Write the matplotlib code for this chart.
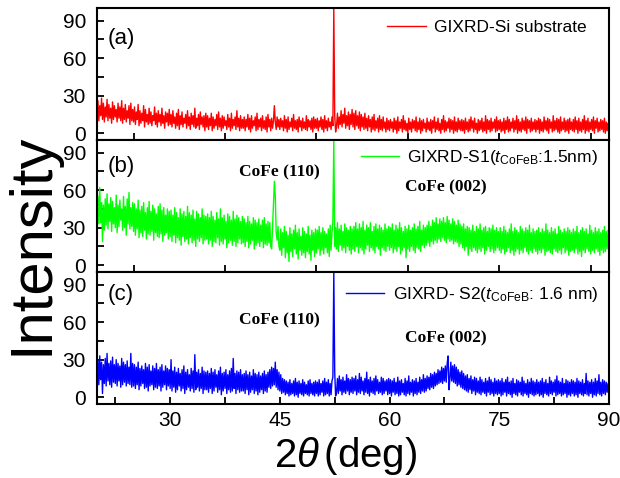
import numpy as np
import matplotlib
matplotlib.use("Agg")
import matplotlib.pyplot as plt
from matplotlib.ticker import FixedLocator, NullFormatter

plt.rcParams['font.family'] = ['Liberation Sans', 'DejaVu Sans']
plt.rcParams['mathtext.fontset'] = 'custom'
plt.rcParams['mathtext.rm'] = 'Liberation Sans'
plt.rcParams['mathtext.it'] = 'Liberation Sans:italic'
plt.rcParams['mathtext.bf'] = 'Liberation Sans:bold'

# intensities sampled every 0.125 deg of 2theta, from 20 to 90
si_substrate = [
    12, 26, 10, 22, 14, 28, 11, 24, 9, 21, 13, 27, 10, 23, 12, 20, 8, 25, 11, 22, 13, 19, 9, 24, 12, 21, 10, 26, 8, 20, 11, 23, 9, 18, 12, 22, 7, 24, 10, 19,
    9, 21, 7, 17, 11, 23, 6, 18, 8, 16, 10, 22, 5, 19, 9, 15, 7, 20, 8, 17, 6, 14, 10, 21, 7, 16, 5, 18, 9, 15, 6, 20, 8, 14, 4, 17, 9, 16, 6, 19,
    7, 15, 5, 18, 8, 13, 4, 16, 6, 19, 3, 14, 7, 17, 5, 12, 8, 15, 4, 18, 6, 13, 3, 16, 7, 14, 5, 20, 4, 12, 6, 15, 3, 17, 7, 13, 5, 14, 2, 16,
    5, 14, 3, 12, 6, 16, 2, 13, 4, 11, 6, 15, 3, 17, 5, 12, 2, 14, 4, 13, 6, 10, 3, 15, 5, 12, 2, 16, 4, 11, 6, 13, 3, 18, 5, 12, 2, 14, 4, 11,
    4, 13, 2, 11, 5, 15, 3, 12, 1, 14, 4, 10, 6, 13, 2, 16, 3, 11, 5, 12, 2, 14, 4, 10, 3, 13, 1, 15, 5, 11, 2, 12, 4, 10, 22, 9, 3, 13, 5, 11,
    3, 12, 5, 10, 2, 14, 4, 11, 1, 13, 3, 9, 5, 12, 2, 15, 4, 10, 3, 11, 1, 13, 5, 10, 2, 12, 4, 9, 3, 14, 2, 11, 5, 10, 3, 12, 1, 13, 4, 11,
    4, 12, 2, 10, 5, 13, 3, 11, 1, 14, 4, 10, 2, 12, 5, 9, 3, 13, 6, 100, 14, 1, 6, 16, 4, 13, 7, 18, 5, 15, 8, 20, 4, 14, 6, 17, 3, 15, 7, 19,
    5, 16, 3, 18, 6, 14, 4, 17, 2, 15, 5, 13, 3, 16, 4, 12, 2, 14, 5, 11, 1, 13, 3, 15, 2, 10, 4, 12, 1, 14, 3, 11, 2, 13, 4, 9, 1, 12, 3, 10,
    2, 11, 4, 9, 1, 12, 3, 10, 0, 13, 2, 9, 4, 11, 1, 14, 3, 10, 2, 8, 0, 12, 3, 9, 1, 11, 4, 10, 2, 13, 1, 9, 3, 12, 0, 10, 2, 11, 4, 8,
    1, 12, 3, 9, 2, 11, 0, 10, 4, 13, 1, 9, 3, 12, 2, 8, 0, 11, 3, 14, 1, 10, 2, 9, 4, 12, 1, 11, 3, 10, 0, 13, 2, 9, 1, 12, 3, 10, 2, 11,
    2, 10, 0, 12, 3, 9, 1, 11, 2, 13, 4, 10, 1, 12, 3, 8, 0, 11, 2, 10, 3, 12, 1, 9, 2, 14, 0, 11, 3, 10, 1, 12, 2, 9, 4, 11, 1, 13, 2, 10,
    3, 11, 1, 9, 2, 12, 0, 10, 3, 13, 1, 11, 2, 9, 4, 12, 1, 10, 3, 14, 0, 11, 2, 9, 1, 12, 3, 10, 2, 13, 0, 11, 4, 10, 1, 12, 2, 9, 3, 11,
    1, 10, 3, 12, 0, 11, 2, 9, 1, 13, 3, 10, 2, 12, 0, 11, 4, 9, 1, 14, 2, 10, 3, 12, 1, 11, 0, 13, 2, 9, 3, 12, 1, 10, 2, 11, 0, 12, 3, 9,
    2, 11, 1, 13, 3, 10, 0, 12, 2, 9, 1, 11, 3, 14, 0, 10, 2, 12, 1, 9, 3, 11, 2, 13, 0, 10, 4, 12, 1, 9, 2, 11, 3, 10, 1, 12, 0, 9, 2, 8,
    5,
]

sample_s1 = [
    30, 55, 33, 62, 34, 50, 19, 48, 28, 53, 32, 57, 29, 49, 35, 54, 27, 51, 33, 46, 30, 56, 26, 48, 31, 52, 36, 45, 28, 55, 30, 47, 24, 53, 33, 58, 29, 46, 31, 50,
    27, 49, 24, 45, 29, 52, 22, 44, 26, 47, 23, 50, 28, 42, 21, 46, 25, 51, 24, 43, 27, 48, 20, 45, 26, 41, 23, 47, 22, 49, 25, 44, 19, 46, 24, 40, 26, 45, 21, 43,
    23, 44, 19, 40, 24, 46, 18, 42, 22, 38, 20, 45, 16, 41, 23, 43, 19, 39, 21, 47, 17, 42, 22, 40, 18, 44, 20, 37, 15, 43, 21, 41, 19, 38, 22, 45, 17, 40, 20, 39,
    21, 41, 17, 38, 20, 43, 15, 39, 19, 36, 18, 42, 22, 37, 16, 45, 19, 38, 17, 40, 21, 35, 14, 41, 18, 39, 20, 36, 16, 43, 19, 37, 15, 40, 18, 38, 21, 35, 17, 39,
    18, 37, 15, 34, 19, 39, 14, 35, 17, 33, 20, 38, 13, 36, 16, 34, 18, 37, 15, 32, 19, 36, 14, 38, 17, 33, 16, 35, 18, 34, 15, 13, 30, 48, 67, 55, 26, 20, 31, 15,
    12, 29, 8, 26, 14, 31, 6, 27, 10, 24, 3, 30, 11, 25, 7, 28, 13, 32, 9, 26, 5, 29, 12, 23, 8, 30, 10, 27, 6, 25, 11, 31, 9, 24, 4, 28, 12, 26, 7, 29,
    10, 28, 13, 31, 8, 26, 12, 30, 9, 27, 14, 25, 10, 29, 7, 32, 12, 26, 35, 100, 15, 30, 13, 34, 11, 29, 16, 32, 12, 27, 14, 33, 10, 30, 15, 28, 12, 31, 9, 29,
    13, 31, 11, 34, 15, 29, 10, 33, 14, 30, 12, 35, 9, 28, 13, 32, 16, 30, 11, 34, 14, 27, 12, 31, 10, 33, 15, 29, 13, 32, 8, 30, 14, 28, 12, 33, 11, 29, 15, 31,
    12, 30, 14, 33, 10, 28, 13, 32, 11, 29, 15, 34, 9, 30, 12, 27, 14, 31, 6, 29, 13, 32, 11, 28, 15, 30, 12, 33, 10, 29, 14, 31, 13, 35, 11, 28, 16, 32, 14, 30,
    16, 32, 18, 35, 15, 31, 19, 36, 17, 34, 20, 38, 18, 33, 21, 37, 19, 35, 22, 38, 20, 34, 18, 39, 21, 36, 19, 33, 20, 37, 17, 35, 19, 32, 18, 36, 15, 33, 17, 31,
    14, 33, 12, 29, 15, 31, 8, 30, 13, 28, 11, 32, 14, 27, 12, 31, 10, 29, 13, 33, 11, 28, 14, 30, 9, 31, 12, 27, 15, 30, 11, 29, 13, 32, 10, 28, 12, 30, 14, 27,
    12, 30, 10, 27, 13, 31, 9, 28, 11, 26, 14, 29, 10, 33, 12, 27, 8, 30, 11, 28, 13, 26, 9, 31, 12, 29, 10, 27, 14, 30, 11, 28, 9, 32, 12, 26, 10, 29, 13, 27,
    11, 28, 9, 30, 12, 26, 10, 29, 13, 27, 8, 33, 11, 28, 12, 26, 10, 30, 9, 27, 13, 29, 11, 25, 10, 31, 12, 28, 9, 26, 14, 29, 10, 27, 12, 30, 8, 28, 11, 26,
    12, 29, 10, 27, 13, 31, 9, 26, 11, 28, 7, 30, 12, 27, 10, 29, 13, 25, 11, 32, 9, 28, 12, 26, 10, 30, 13, 27, 11, 29, 8, 26, 12, 28, 10, 31, 11, 27, 13, 28,
    20,
]

sample_s2 = [
    12, 30, 10, 33, 14, 28, 3, 26, 11, 31, 9, 35, 13, 27, 10, 29, 8, 32, 12, 26, 11, 30, 9, 27, 13, 25, 8, 31, 10, 28, 12, 26, 9, 29, 11, 24, 10, 35, 8, 27,
    9, 26, 7, 24, 10, 28, 6, 23, 9, 25, 11, 22, 7, 27, 8, 24, 5, 26, 9, 21, 10, 25, 6, 23, 8, 27, 7, 22, 9, 24, 5, 26, 8, 21, 10, 25, 6, 23, 9, 22,
    7, 30, 5, 21, 8, 24, 4, 20, 6, 23, 9, 19, 5, 22, 7, 25, 3, 20, 6, 22, 8, 18, 5, 23, 7, 21, 4, 34, 6, 20, 8, 22, 5, 19, 7, 24, 3, 21, 6, 20,
    6, 21, 4, 19, 7, 23, 3, 20, 5, 22, 8, 18, 4, 21, 6, 24, 2, 19, 5, 20, 7, 22, 3, 18, 6, 21, 4, 23, 5, 31, 7, 19, 3, 21, 6, 20, 4, 22, 5, 18,
    5, 19, 3, 21, 6, 18, 2, 20, 4, 17, 6, 22, 3, 19, 5, 18, 2, 20, 4, 17, 6, 19, 3, 21, 5, 18, 4, 20, 8, 22, 7, 24, 9, 23, 10, 28, 8, 22, 6, 20,
    5, 18, 3, 15, 4, 14, 2, 13, 3, 12, 1, 14, 2, 11, 3, 13, 1, 15, 2, 12, 0, 13, 3, 11, 2, 14, 1, 12, 3, 10, 2, 13, 1, 14, 3, 11, 2, 12, 1, 13,
    3, 12, 1, 14, 2, 11, 4, 13, 1, 15, 2, 12, 3, 14, 1, 11, 2, 13, 16, 100, 20, 1, 4, 15, 3, 17, 5, 14, 2, 16, 4, 13, 3, 18, 5, 15, 2, 14, 4, 16,
    3, 15, 5, 17, 2, 14, 4, 19, 3, 16, 5, 13, 2, 15, 4, 20, 3, 14, 1, 16, 4, 13, 3, 15, 2, 17, 5, 14, 3, 12, 4, 16, 2, 15, 3, 13, 5, 14, 2, 15,
    3, 14, 1, 13, 4, 15, 2, 12, 3, 16, 1, 13, 2, 14, 4, 11, 2, 15, 1, 13, 3, 17, 2, 12, 4, 14, 1, 13, 3, 15, 2, 12, 4, 16, 3, 14, 5, 18, 4, 15,
    5, 17, 7, 16, 6, 19, 8, 18, 7, 20, 9, 19, 10, 22, 11, 21, 12, 24, 11, 23, 13, 25, 12, 27, 33, 6, 15, 28, 13, 25, 12, 26, 11, 24, 9, 22, 10, 20, 8, 21,
    7, 19, 6, 17, 5, 18, 4, 15, 6, 17, 3, 14, 5, 16, 2, 15, 4, 13, 3, 16, 2, 14, 4, 12, 3, 15, 1, 13, 4, 16, 2, 14, 3, 12, 1, 15, 3, 13, 2, 14,
    3, 13, 1, 15, 2, 12, 4, 14, 1, 16, 3, 12, 2, 13, 0, 15, 3, 11, 2, 14, 1, 13, 4, 12, 2, 16, 1, 13, 3, 11, 2, 14, 0, 12, 3, 15, 2, 13, 1, 12,
    2, 14, 3, 12, 1, 13, 2, 15, 0, 12, 3, 14, 2, 11, 1, 16, 3, 13, 2, 12, 4, 14, 1, 17, 2, 13, 3, 12, 1, 15, 2, 11, 3, 14, 0, 13, 2, 12, 1, 14,
    3, 13, 1, 12, 2, 15, 0, 13, 3, 12, 2, 14, 1, 11, 3, 19, 2, 13, 1, 12, 3, 14, 0, 12, 2, 15, 1, 13, 3, 18, 2, 12, 1, 14, 3, 13, 2, 12, 4, 11,
    6,
]

series = [si_substrate, sample_s1, sample_s2]
series_labels = [
    'GIXRD-Si substrate',
    r'GIXRD-S1($t_{\mathrm{CoFeB}}$:1.5nm)',
    r'GIXRD- S2($t_{\mathrm{CoFeB}}$: 1.6 nm)',
]
colors = ['#FF0000', '#00FF00', '#0000FF']
panel_tags = ['(a)', '(b)', '(c)']
y_ticks = [0, 30, 60, 90]
x_ticks_bottom = [30, 45, 60, 75, 90]

# peak annotations: (panel index, text, x, y)
peak_labels = [
    (1, 'CoFe (110)', 45.0, 74.5),
    (1, 'CoFe (002)', 67.7, 62.5),
    (2, 'CoFe (110)', 45.0, 61.7),
    (2, 'CoFe (002)', 67.7, 47.3),
]

fig = plt.figure(figsize=(6.2, 4.78), dpi=100)
left, width, h = 97 / 620, 512 / 620, 132 / 478
bottoms = [338 / 478, 206 / 478, 74 / 478]
legend_anchor = [(0.957, 0.856), (0.979, 0.864), (0.979, 0.826)]
tag_y = [0.77, 0.80, 0.83]

axes = []
for i in range(3):
    ax = fig.add_axes([left, bottoms[i], width, h])
    vals = series[i]
    two_theta = np.linspace(20, 90, len(vals))
    ax.plot(two_theta, vals, color=colors[i], lw=1.0, label=series_labels[i])
    ax.set_xlim(20, 90)
    ax.set_ylim(-5.4, 100)
    ax.set_yticks(y_ticks)
    ax.yaxis.set_minor_locator(FixedLocator([15, 45, 75]))
    ax.tick_params(axis='both', which='both', direction='in', length=5, width=1.3,
                   top=False, right=False)
    ax.tick_params(axis='y', labelsize=15, pad=8)
    if i < 2:
        ax.set_xticks(np.arange(25, 90, 12.5))
        ax.xaxis.set_major_formatter(NullFormatter())
    else:
        ax.set_xticks(x_ticks_bottom)
        ax.xaxis.set_minor_locator(FixedLocator(np.arange(22.5, 90, 15)))
        ax.tick_params(axis='x', labelsize=15, pad=5)
    for sp in ax.spines.values():
        sp.set_linewidth(1.5)
    ax.text(0.021, tag_y[i], panel_tags[i], transform=ax.transAxes,
            fontsize=16, va='center', ha='left')
    leg = ax.legend(loc='center right', bbox_to_anchor=legend_anchor[i],
                    frameon=False, fontsize=12.5, handlelength=2.2,
                    handletextpad=0.5, borderpad=0, borderaxespad=0)
    for lh in leg.get_lines():
        lh.set_linewidth(1.0)
    axes.append(ax)

for pi, txt, x, y in peak_labels:
    axes[pi].text(x, y, txt, ha='center', va='center', fontsize=12.5,
                  fontweight='bold', family='Liberation Serif')

fig.text(0.052, 0.49, 'Intensity', rotation=90, ha='center', va='center', fontsize=43)
fig.text(0.557, 0.045, r'$2\theta\,$(deg)', ha='center', va='center', fontsize=29)

fig.savefig('out.png', dpi=100)
